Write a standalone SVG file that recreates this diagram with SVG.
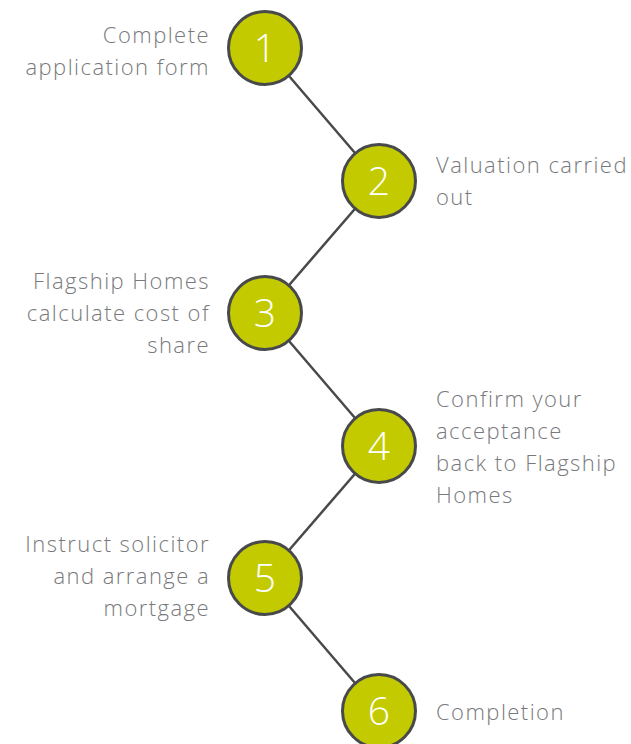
<svg xmlns="http://www.w3.org/2000/svg" width="631" height="744" viewBox="0 0 631 744">
  <style>
    .step circle { fill: #c3cb00; stroke: #48494b; stroke-width: 3; }
    .num { font-family: "Open Sans", "DejaVu Sans", sans-serif; font-weight: 300; font-size: 39px; fill: #ffffff; text-anchor: middle; }
    .lbl { font-family: "Open Sans", "Liberation Sans", sans-serif; font-weight: 300; font-size: 22px; fill: #78797c; letter-spacing: 1.45px; }
    .left { text-anchor: end; }
    .right { text-anchor: start; }
    .links line { stroke: #48494b; stroke-width: 2.5; }
  </style>
  <rect width="631" height="744" fill="#ffffff"/>

  <!-- zig-zag connectors between consecutive steps -->
  <g class="links" id="connectors">
    <line x1="265" y1="48" x2="379" y2="181"/>
    <line x1="379" y1="181" x2="265" y2="313"/>
    <line x1="265" y1="313" x2="379" y2="446"/>
    <line x1="379" y1="446" x2="265" y2="578"/>
    <line x1="265" y1="578" x2="379" y2="711"/>
  </g>

  <g class="step" id="step1">
    <circle cx="265" cy="48" r="36.5"/>
    <text class="num" x="265" y="62">1</text>
    <text class="lbl left" x="210" y="43">Complete</text>
    <text class="lbl left" x="210" y="75">application form</text>
  </g>

  <g class="step" id="step2">
    <circle cx="379" cy="181" r="36.5"/>
    <text class="num" x="379" y="195">2</text>
    <text class="lbl right" x="436" y="173">Valuation carried</text>
    <text class="lbl right" x="436" y="205">out</text>
  </g>

  <g class="step" id="step3">
    <circle cx="265" cy="313" r="36.5"/>
    <text class="num" x="265" y="327">3</text>
    <text class="lbl left" x="210" y="289">Flagship Homes</text>
    <text class="lbl left" x="210" y="321">calculate cost of</text>
    <text class="lbl left" x="210" y="353">share</text>
  </g>

  <g class="step" id="step4">
    <circle cx="379" cy="446" r="36.5"/>
    <text class="num" x="379" y="460">4</text>
    <text class="lbl right" x="436" y="407">Confirm your</text>
    <text class="lbl right" x="436" y="439">acceptance</text>
    <text class="lbl right" x="436" y="471">back to Flagship</text>
    <text class="lbl right" x="436" y="503">Homes</text>
  </g>

  <g class="step" id="step5">
    <circle cx="265" cy="578" r="36.5"/>
    <text class="num" x="265" y="592">5</text>
    <text class="lbl left" x="210" y="552">Instruct solicitor</text>
    <text class="lbl left" x="210" y="584">and arrange a</text>
    <text class="lbl left" x="210" y="616">mortgage</text>
  </g>

  <g class="step" id="step6">
    <circle cx="379" cy="711" r="36.5"/>
    <text class="num" x="379" y="725">6</text>
    <text class="lbl right" x="436" y="720">Completion</text>
  </g>
</svg>
